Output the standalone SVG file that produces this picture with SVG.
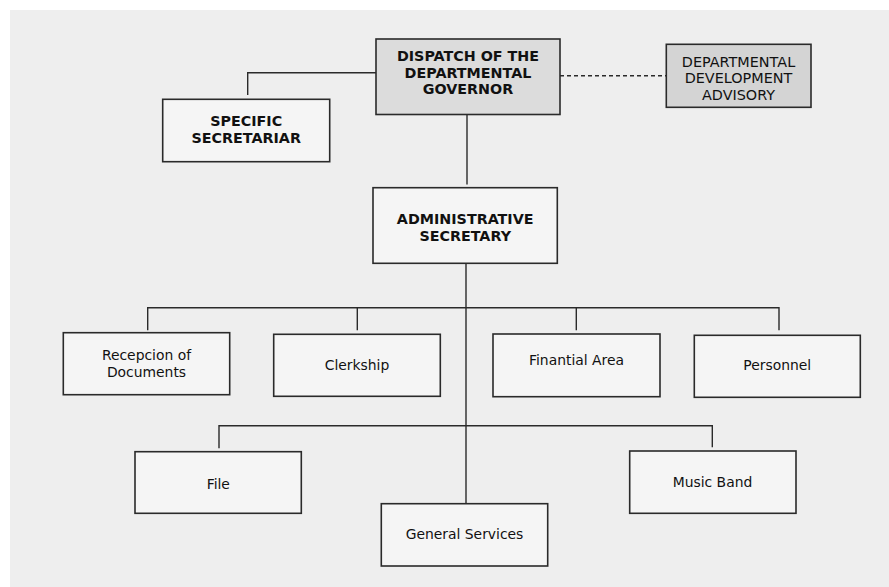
<svg xmlns="http://www.w3.org/2000/svg" width="889" height="587" viewBox="0 0 889 587">
<style>
.box{fill:#f5f5f5;stroke:#2a2a2a;stroke-width:1.6}
.dark{fill:#dcdcdc;stroke:#2a2a2a;stroke-width:1.6}
.dark2{fill:#d4d4d4;stroke:#2a2a2a;stroke-width:1.6}
.t{font-family:"DejaVu Sans","Verdana",sans-serif;font-size:13.9px;fill:#111;text-anchor:middle}
.b{font-weight:bold;font-size:14.3px}
.r{font-size:14.4px}
.ln{fill:none;stroke:#2a2a2a;stroke-width:1.4}
.dash{stroke-dasharray:4 3}
</style>
<rect x="10" y="10" width="879" height="577" fill="#eeeeee"/>
<g id="connectors">
<path class="ln" d="M376 72.7H247.7V95"/>
<path class="ln dash" d="M560 75.7H666"/>
<path class="ln" d="M467 114.7V184.5"/>
<path class="ln" d="M466 263.5V503.7"/>
<path class="ln" d="M147.7 330.3V307.7H779V330.3"/>
<path class="ln" d="M357.3 307.7V330.3"/>
<path class="ln" d="M576.3 307.7V330.3"/>
<path class="ln" d="M219 448.3V425.7H712.3V447.3"/>
</g>
<g id="dispatch">
<rect class="dark" x="376" y="39" width="184" height="75.5"/>
<text class="t b" x="468" y="61">DISPATCH OF THE</text>
<text class="t b" x="468" y="77.5">DEPARTMENTAL</text>
<text class="t b" x="468" y="94">GOVERNOR</text>
</g>
<g id="advisory">
<rect class="dark2" x="666.3" y="44.3" width="144.7" height="63"/>
<text class="t r" x="738.5" y="66.5">DEPARTMENTAL</text>
<text class="t r" x="738.5" y="83">DEVELOPMENT</text>
<text class="t r" x="738.5" y="100">ADVISORY</text>
</g>
<g id="specific">
<rect class="box" x="162.7" y="99.3" width="167" height="62.4"/>
<text class="t b" x="246.2" y="126">SPECIFIC</text>
<text class="t b" x="246.2" y="142.5">SECRETARIAR</text>
</g>
<g id="admin">
<rect class="box" x="373" y="187.7" width="184.3" height="75.6"/>
<text class="t b" x="465.2" y="224">ADMINISTRATIVE</text>
<text class="t b" x="465.2" y="240.5">SECRETARY</text>
</g>
<g id="reception">
<rect class="box" x="63.3" y="332.7" width="166.4" height="62"/>
<text class="t" x="146.5" y="360">Recepcion of</text>
<text class="t" x="146.5" y="376.5">Documents</text>
</g>
<g id="clerkship">
<rect class="box" x="273.7" y="334.3" width="166.6" height="62"/>
<text class="t" x="357" y="369.5">Clerkship</text>
</g>
<g id="financial">
<rect class="box" x="493" y="334" width="167" height="62.7"/>
<text class="t" x="576.5" y="365.3">Finantial Area</text>
</g>
<g id="personnel">
<rect class="box" x="694.3" y="335.3" width="166" height="62"/>
<text class="t" x="777.3" y="369.7">Personnel</text>
</g>
<g id="file">
<rect class="box" x="135" y="451.7" width="166.3" height="61.6"/>
<text class="t" x="218.3" y="488.7">File</text>
</g>
<g id="general">
<rect class="box" x="381.3" y="503.7" width="166.4" height="62.3"/>
<text class="t" x="464.5" y="538.7">General Services</text>
</g>
<g id="music">
<rect class="box" x="629.7" y="451" width="166.3" height="62.3"/>
<text class="t" x="712.5" y="487.3">Music Band</text>
</g>
</svg>
